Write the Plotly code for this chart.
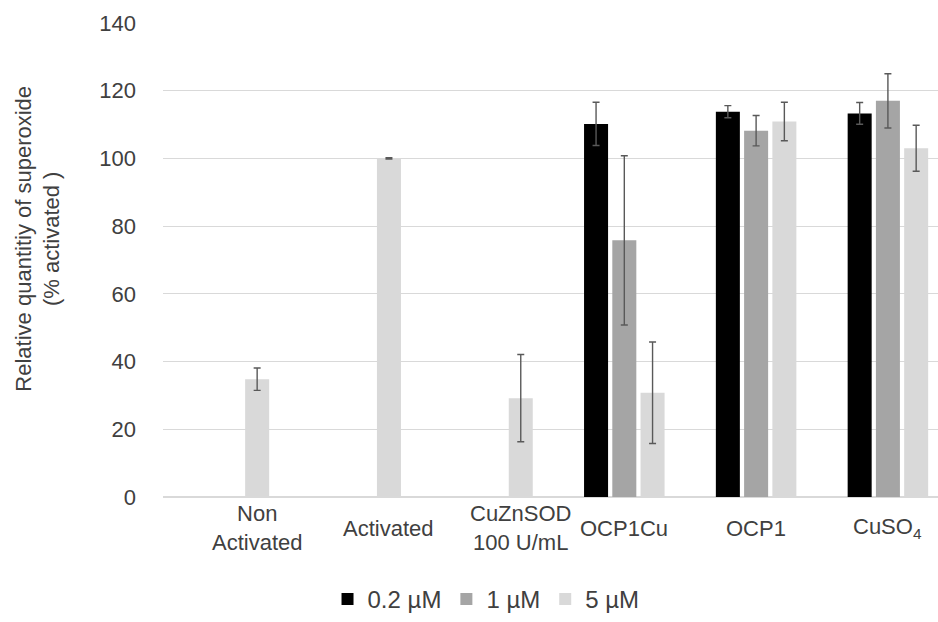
import plotly.graph_objects as go

# Sample groups and concentration series
categories = ["Non<br>Activated", "Activated", "CuZnSOD<br>100 U/mL", "OCP1Cu", "OCP1", "CuSO<sub>4</sub>"]
series_names = ["0.2 µM", "1 µM", "5 µM"]

conc_02 = [None, None, None, 110.2, 113.8, 113.3]
conc_1 = [None, None, None, 75.8, 108.2, 117.0]
conc_5 = [34.8, 100.0, 29.2, 30.8, 110.9, 103.0]

err_02 = [None, None, None, 6.4, 1.8, 3.2]
err_1 = [None, None, None, 25.0, 4.5, 8.0]
err_5 = [3.3, 0.2, 12.9, 15.0, 5.7, 6.8]

y_ticks = [0, 20, 40, 60, 80, 100, 120, 140]

colors = ["#000000", "#a5a5a5", "#d9d9d9"]
values = [conc_02, conc_1, conc_5]
errors = [err_02, err_1, err_5]

BARGAP = 0.357
BARGROUPGAP = 0.15
FONT = "Liberation Sans, Arial, sans-serif"
TEXT = "#404040"

x_pos = list(range(len(categories)))

fig = go.Figure()
for name, vals, errs, col in zip(series_names, values, errors, colors):
    fig.add_trace(go.Bar(
        x=x_pos, y=vals, name=name,
        marker=dict(color=col, line=dict(width=0)),
        error_y=dict(type="data", array=errs, visible=True,
                     color="#595959", thickness=1.4, width=3.5),
    ))

# Each category label sits under the bars that actually carry data
slot = (1 - BARGAP) / len(series_names)
label_x = []
for i in x_pos:
    present = [k for k, vals in enumerate(values) if vals[i] is not None]
    mean_k = sum(present) / len(present)
    label_x.append(i + (mean_k - (len(series_names) - 1) / 2) * slot)

# Category labels, vertically centred below the baseline
annotations = [
    dict(text=lab, x=xv, xref="x", y=-0.066, yref="paper",
         xanchor="center", yanchor="middle", showarrow=False,
         font=dict(size=22, color=TEXT))
    for lab, xv in zip(categories, label_x)
]
annotations.append(dict(
    text="Relative quantitiy of superoxide<br>(% activated )",
    xref="paper", yref="paper", x=-0.161, y=0.5455,
    xanchor="center", yanchor="middle", textangle=-90, showarrow=False,
    font=dict(size=22, color=TEXT),
))

fig.update_layout(
    width=938, height=622,
    margin=dict(l=163, r=0, t=23, b=122),
    paper_bgcolor="white", plot_bgcolor="white",
    barmode="group", bargap=BARGAP, bargroupgap=BARGROUPGAP,
    font=dict(family=FONT, size=22, color=TEXT),
    showlegend=True,
    legend=dict(orientation="h", x=0.4168, xanchor="center", y=-0.2168, yanchor="middle",
                font=dict(size=24, color=TEXT), itemwidth=30, traceorder="normal"),
    xaxis=dict(
        range=[-0.5, 5.38], showticklabels=False,
        showgrid=False, zeroline=False, showline=False, ticks="",
    ),
    yaxis=dict(
        range=[0, 140], tickmode="array", tickvals=y_ticks,
        showgrid=True, gridcolor="#d9d9d9", gridwidth=1,
        zeroline=True, zerolinecolor="#d9d9d9", zerolinewidth=1.5,
        showline=False, ticks="", ticklabelstandoff=26,
        tickfont=dict(size=22, color=TEXT),
    ),
    annotations=annotations,
)

fig.write_html("out.html")
